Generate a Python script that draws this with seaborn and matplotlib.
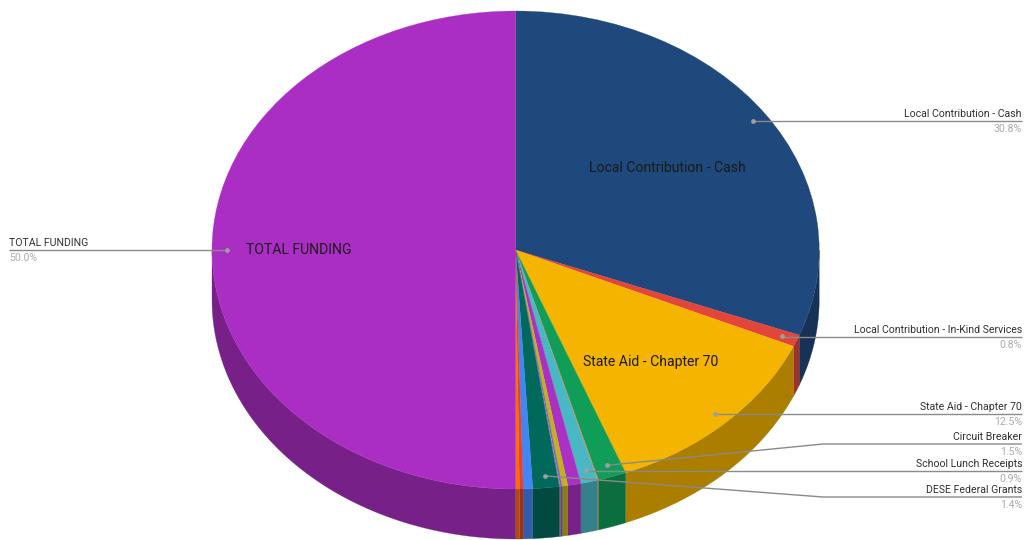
import numpy as np
import matplotlib
matplotlib.use("Agg")
import matplotlib.pyplot as plt
import seaborn as sns
from matplotlib.colors import to_rgb

# School funding sources, percent of the pie
slice_names = ["Local Contribution - Cash", "Local Contribution - In-Kind Services",
               "State Aid - Chapter 70", "Circuit Breaker", "Other A",
               "School Lunch Receipts", "Other B", "Other C", "Other D", "Other E",
               "DESE Federal Grants", "Other F", "Other G", "Other H", "TOTAL FUNDING"]
slice_values = [30.8, 0.8, 12.5, 1.5, 0.05, 0.9, 0.7, 0.3, 0.1, 0.05, 1.4, 0.5, 0.2, 0.2, 50.0]
slice_colors = ["#1F487C", "#E2463A", "#F4B400", "#0F9D58", "#F07B3A", "#4AB8C4", "#AB30C4",
                "#C2B21A", "#8E5CC0", "#7C8FB0", "#00695C", "#4285F4", "#DB4437", "#FF6D00", "#AA2EC3"]

# Slices that carry a callout, with their label placement
callout_names = ["Local Contribution - Cash", "Local Contribution - In-Kind Services",
                 "State Aid - Chapter 70", "Circuit Breaker", "School Lunch Receipts",
                 "DESE Federal Grants", "TOTAL FUNDING"]
callout_pcts = ["30.8%", "0.8%", "12.5%", "1.5%", "0.9%", "1.4%", "50.0%"]
inner_labels = ["Local Contribution - Cash", "State Aid - Chapter 70", "TOTAL FUNDING"]

W, H = 1026, 540
CX, CY, RX, RY, DEPTH = 515.6, 250, 303.6, 239, 50
SHADE = 0.70
LINE = "#8a8a8a"
FONT = "Roboto"

sns.set_theme(style="white", rc={"font.family": FONT})

fig = plt.figure(figsize=(W / 100, H / 100), dpi=100, facecolor="white")

# Pie axes: one data unit is one radius, stretched into an ellipse
ax = fig.add_axes([0, 0, 1, 1])
total = sum(slice_values)
edges = np.cumsum([0] + slice_values) / total * 360

# Rim of the tilted pie: only the part facing the viewer shows
d = DEPTH / RY
for start, stop, col in zip(edges[:-1], edges[1:], slice_colors):
    a, b = max(start, 90), min(stop, 270)
    if b <= a:
        continue
    t = np.radians(np.linspace(a, b, 80))
    xs = np.r_[np.sin(t), np.sin(t)[::-1]]
    ys = np.r_[np.cos(t), np.cos(t)[::-1] - d]
    dark = tuple(c * SHADE for c in to_rgb(col))
    ax.fill(xs, ys, color=dark, lw=0.2, zorder=1)

wedges, _ = ax.pie(slice_values, colors=slice_colors, startangle=90, counterclock=False,
                   radius=1, wedgeprops={"linewidth": 0.2, "zorder": 2}, frame=True)
for w in wedges:
    w.set_edgecolor(w.get_facecolor())
ax.set_aspect("auto")
ax.set_xlim(-CX / RX, (W - CX) / RX)
ax.set_ylim((CY - H) / RY, CY / RY)
ax.axis("off")

# Overlay in pixel units for callouts and text
ov = fig.add_axes([0, 0, 1, 1], facecolor="none")
ov.set_xlim(0, W)
ov.set_ylim(H, 0)
ov.axis("off")


def anchor(name):
    """Callout dot position at the slice's mid angle, just inside the rim."""
    i = slice_names.index(name)
    mid = np.radians((edges[i] + edges[i + 1]) / 2)
    return CX + 0.95 * RX * np.sin(mid), CY - 0.95 * RY * np.cos(mid)


line_y = [121, 337, 414, 444, 471, 497, 250]
bend_x = [None, None, None, 823, None, 823, None]
for name, pct, y, bend in zip(callout_names, callout_pcts, line_y, bend_x):
    px, py = anchor(name)
    left = name == "TOTAL FUNDING"
    end = 9 if left else 1022
    if bend is None:
        xs, ys = [px, end], [y, y]
    else:
        xs, ys = [px, bend, end], [py, y, y]
    ov.plot(xs, ys, color=LINE, lw=1.0, zorder=4, solid_capstyle="butt")
    ov.plot([px], [py], "o", ms=2.4, color="#a0a0a0", zorder=5)
    ha = "left" if left else "right"
    ov.text(end, y - 7, name, ha=ha, va="center", fontsize=7.55, color="#303030", zorder=6)
    ov.text(end, y + 8, pct, ha=ha, va="center", fontsize=7.55, color="#ababab", zorder=6)

inner_xy = [(667, 168), (651, 362), (299, 250)]
for name, (x, y) in zip(inner_labels, inner_xy):
    ov.text(x, y, name, ha="center", va="center", fontsize=10.1, color="#1a1a1a", zorder=3)

fig.savefig("out.png", dpi=100, facecolor="white")
